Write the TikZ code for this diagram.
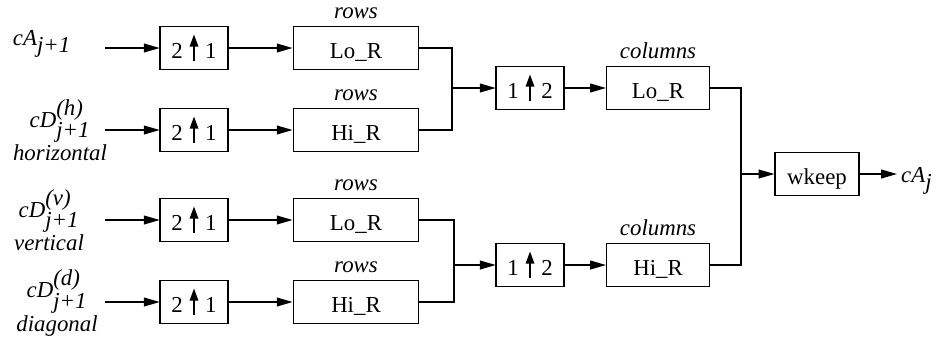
\documentclass[tikz,border=0pt]{standalone}
\usepackage{fontspec}
\setmainfont{Liberation Serif}
\usetikzlibrary{arrows.meta,calc,positioning}
\newcommand{\figfont}{\fontsize{13}{15}\selectfont}
\tikzset{
  blk/.style={draw, font=\figfont, inner sep=0pt, minimum height=24.4pt,
    text height=14pt, text depth=1.5pt},
  upbox/.style={blk, minimum width=38.6pt},
  filt/.style={blk, minimum width=71.4pt},
  colfilt/.style={blk, minimum width=58.4pt},
  keepbox/.style={blk, minimum width=47.6pt},
  lbl/.style={font=\figfont\itshape, inner sep=1pt},
  inlbl/.style={font=\figfont\itshape, align=center, inner sep=1pt},
  arr/.style={-{Triangle[length=9pt,width=5pt]}}
}
% upsampling arrow inside the boxes
\newcommand{\upsym}{\hspace{4pt}\tikz[baseline=0pt,x=1pt,y=1pt]
  \draw[line width=1.1pt,-{Triangle[length=7pt,width=4.8pt]}] (0,-1) -- (0,14);\hspace{4pt}}
\begin{document}
\begin{tikzpicture}[x=0.02cm,y=-0.02cm,line width=0.8pt]
  \useasboundingbox (0,0) rectangle (946,339);
  % Input coefficients
  \node[inlbl, anchor=base] (ca) at (42,45) {cA$_{\textit{j+1}}$};
  \node[inlbl] (ch) at (60,130) {cD$^{\textit{(h)}}_{\textit{j+1}}$\\horizontal};
  \node[inlbl] (cv) at (49,220) {cD$^{\textit{(v)}}_{\textit{j+1}}$\\vertical};
  \node[inlbl] (cd) at (57,303) {cD$^{\textit{(d)}}_{\textit{j+1}}$\\diagonal};
  % Upsample and filter the rows
  \foreach \n/\y/\f in {1/48/Lo,2/130/Hi,3/220/Lo,4/302/Hi} {
    \coordinate (s\n) at (105,\y);
    \node[upbox] (u\n) at (194,\y) {2\upsym1};
    \node[filt] (r\n) at (356,\y) {\f\_R};
    \node[lbl, above=2.4pt of r\n] (rl\n) {rows};
    \draw[arr] (s\n) -- (u\n);
    \draw[arr] (u\n) -- (r\n);
  }
  % Join the rows, upsample and filter the columns
  \coordinate (j1) at (452,88);
  \coordinate (j2) at (454,265);
  \node[upbox] (b1) at (530,88) {1\upsym2};
  \node[upbox] (b2) at (530,265) {1\upsym2};
  \draw (r1.east) -| (j1) |- (r2.east);
  \draw (r3.east) -| (j2) |- (r4.east);
  \draw[arr] (j1) -- (b1);
  \draw[arr] (j2) -- (b2);
  \node[colfilt] (c1) at (658,88) {Lo\_R};
  \node[colfilt] (c2) at (658,265) {Hi\_R};
  \node[lbl, above=2.4pt of c1] (cl1) {columns};
  \node[lbl, above=2.4pt of c2] (cl2) {columns};
  \draw[arr] (b1) -- (c1);
  \draw[arr] (b2) -- (c2);
  % Keep the central part
  \coordinate (j3) at (741,174);
  \node[keepbox] (wk) at (817,174) {wkeep};
  \draw (c1.east) -| (j3) |- (c2.east);
  \draw[arr] (j3) -- (wk);
  \node[lbl, anchor=base west, inner sep=2pt] (out) at (897,182) {cA$_{\textit{j}}$};
  \draw[arr] (wk) -- (wk -| out.west);
\end{tikzpicture}
\end{document}
